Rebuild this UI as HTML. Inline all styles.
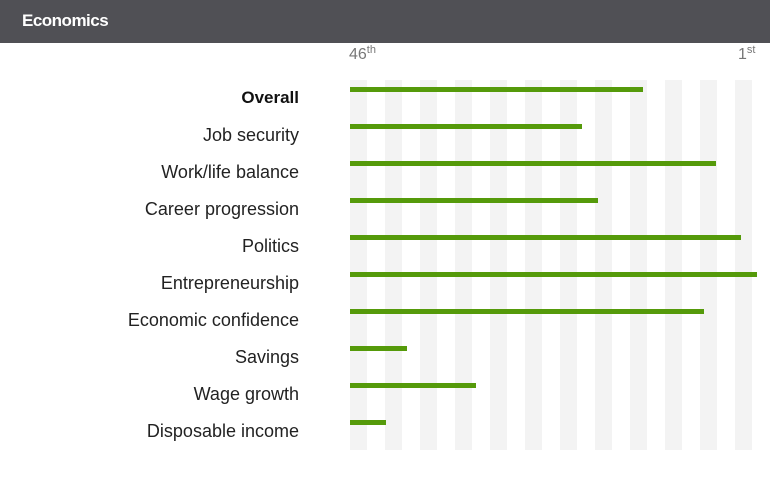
<!DOCTYPE html>
<html><head><style>
body{margin:0;width:770px;height:482px;background:#fff;font-family:"Liberation Sans",sans-serif;position:relative;overflow:hidden}
.hdr{position:absolute;left:0;top:0;width:770px;height:43px;background:#505055}
.hdr span{position:absolute;left:22px;top:11px;color:#fff;font-weight:bold;font-size:17px;letter-spacing:-0.5px}
.s{position:absolute;top:80px;height:370px;width:17px;background:#f3f3f3}
.b{position:absolute;left:350px;height:5px;background:#559a0a}
.l{position:absolute;right:471px;font-size:18px;color:#222;white-space:nowrap}
.t{position:absolute;top:47px;font-size:16px;color:#777;line-height:16px}
.t sup{font-size:11px;vertical-align:6px;line-height:0}
</style></head><body>
<div class="hdr"><span>Economics</span></div>
<div class="t" style="left:349px">46<sup>th</sup></div>
<div class="t" style="left:738px">1<sup>st</sup></div>
<div class="s" style="left:350px"></div><div class="s" style="left:385px"></div><div class="s" style="left:420px"></div><div class="s" style="left:455px"></div><div class="s" style="left:490px"></div><div class="s" style="left:525px"></div><div class="s" style="left:560px"></div><div class="s" style="left:595px"></div><div class="s" style="left:630px"></div><div class="s" style="left:665px"></div><div class="s" style="left:700px"></div><div class="s" style="left:735px"></div>
<div class="b" style="top:87px;width:293px"></div>
<div class="b" style="top:124px;width:232px"></div>
<div class="b" style="top:161px;width:366px"></div>
<div class="b" style="top:198px;width:248px"></div>
<div class="b" style="top:235px;width:391px"></div>
<div class="b" style="top:272px;width:407px"></div>
<div class="b" style="top:309px;width:354px"></div>
<div class="b" style="top:346px;width:57px"></div>
<div class="b" style="top:383px;width:126px"></div>
<div class="b" style="top:420px;width:36px"></div>
<div class="l" style="top:88px;font-weight:bold;color:#111;font-size:17px">Overall</div>
<div class="l" style="top:125px">Job security</div>
<div class="l" style="top:162px">Work/life balance</div>
<div class="l" style="top:199px">Career progression</div>
<div class="l" style="top:236px">Politics</div>
<div class="l" style="top:273px">Entrepreneurship</div>
<div class="l" style="top:310px">Economic confidence</div>
<div class="l" style="top:347px">Savings</div>
<div class="l" style="top:384px">Wage growth</div>
<div class="l" style="top:421px">Disposable income</div>
</body></html>
